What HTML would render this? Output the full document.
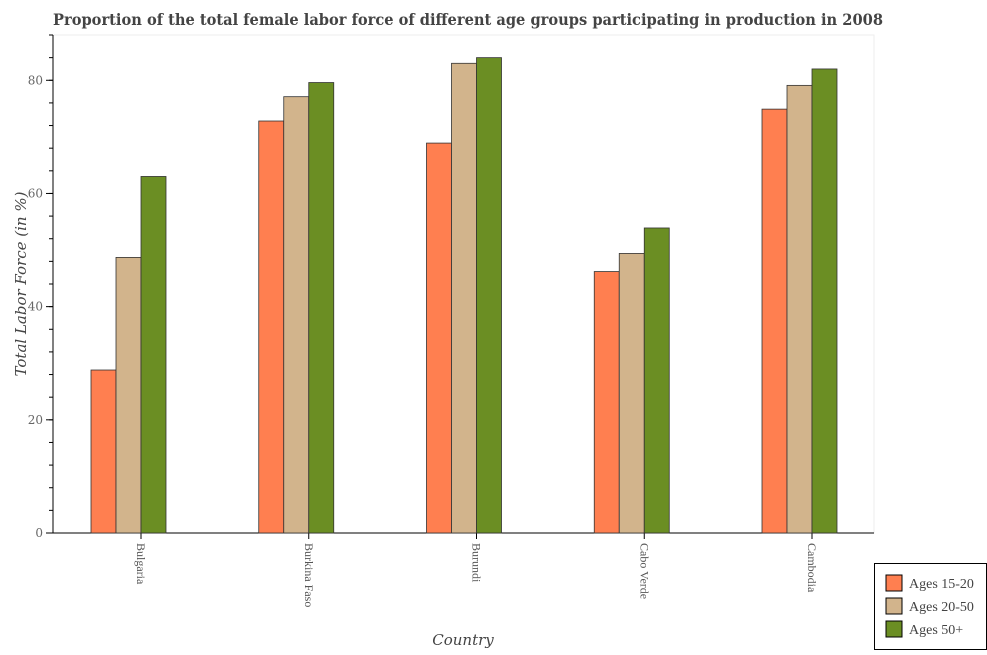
<!DOCTYPE html>
<html><head><meta charset="utf-8"><style>
body{margin:0;background:#fff;font-family:"Liberation Sans",sans-serif;}
</style></head><body>
<svg id="c" width="987" height="650" xmlns="http://www.w3.org/2000/svg">
<text x="53" y="25" font-size="15.5" font-family="DejaVu Serif" font-weight="bold" fill="#444" textLength="830" lengthAdjust="spacingAndGlyphs">Proportion of the total female labor force of different age groups participating in production in 2008</text>
<rect x="53" y="35" width="821" height="498" fill="none" stroke="#eee"/>
<g id="ax"></g><g id="bars"></g>
<text x="463" y="645" text-anchor="middle" font-size="15" font-style="italic" font-family="DejaVu Serif" fill="#444">Country</text>
<text transform="translate(26,284) rotate(-90)" text-anchor="middle" font-size="15" font-style="italic" font-family="DejaVu Serif" fill="#444">Total Labor Force (in %)</text>
<g id="legend"></g>
</svg>
<script>
const categories=["Bulgaria","Burkina Faso","Burundi","Cabo Verde","Cambodia"];
const seriesNames=["Ages 15-20","Ages 20-50","Ages 50+"];
const s1=[28.8,72.8,68.9,46.2,74.9];
const s2=[48.7,77.1,83.0,49.4,79.1];
const s3=[63.0,79.6,84.0,53.9,82.0];
const yTicks=[0,20,40,60,80];
const colors=["#ff7f50","#d2b48c","#6b8e23"];
const NS="http://www.w3.org/2000/svg";
const X0=53,X1=874,Y0=533,YMAX=88,YTOP=35;
function y(v){return Y0-(v/YMAX)*(Y0-YTOP);}
function xc(i){return 141+167.75*i;}
function mk(t,a,p){const e=document.createElementNS(NS,t);for(const k in a)e.setAttribute(k,a[k]);p.appendChild(e);return e;}
const ax=document.getElementById('ax');
const yl=mk('line',{x1:X0,y1:YTOP,x2:X0,y2:Y0,stroke:'#000'},ax);


const xl=mk('line',{x1:X0,y1:Y0,x2:X1,y2:Y0,stroke:'#000'},ax);


for(let m=0;m<=YMAX;m+=4){mk('line',{x1:X0-4,y1:y(m),x2:X0,y2:y(m),stroke:'#000'},ax);}
yTicks.forEach(t=>{
 mk('line',{x1:X0-7,y1:y(t),x2:X0,y2:y(t),stroke:'#000'},ax);
 const tx=mk('text',{x:X0-10,y:y(t)+4,'text-anchor':'end','font-size':12,'font-family':'DejaVu Serif',fill:'#666'},ax);tx.textContent=t;
 
 
});
const bars=document.getElementById('bars');
const series=[s1,s2,s3];const bw=25;
categories.forEach((c,i)=>{
 mk('line',{x1:xc(i),y1:Y0,x2:xc(i),y2:Y0+6,stroke:'#000'},ax);
 const tx=mk('text',{x:0,y:0,'font-size':12,'font-family':'Liberation Serif',fill:'#555',transform:'translate('+(xc(i)-4)+','+(Y0+10)+') rotate(90)'},ax);tx.textContent=c;
 
 
 series.forEach((s,j)=>{
  const x=xc(i)-2*bw+j*bw;
  const r=mk('rect',{x:x,y:y(s[i]),width:bw,height:Y0-y(s[i]),fill:colors[j],stroke:'#333','stroke-width':0.8},bars);
  
  
 });
});
const lg=document.getElementById('legend');
const box=mk('rect',{x:874.5,y:563.5,width:112,height:86,fill:'#fff',stroke:'#000'},lg);


seriesNames.forEach((n,j)=>{
 const yy=575+j*23;
 const sw=mk('rect',{x:886,y:yy,width:16,height:16,fill:colors[j],stroke:'#000','stroke-width':1},lg);
 
 
 const t=mk('text',{x:909,y:yy+13,'font-size':14,'font-family':'Liberation Serif',fill:'#444'},lg);t.textContent=n;
 
 
});
</script>
</body></html>
